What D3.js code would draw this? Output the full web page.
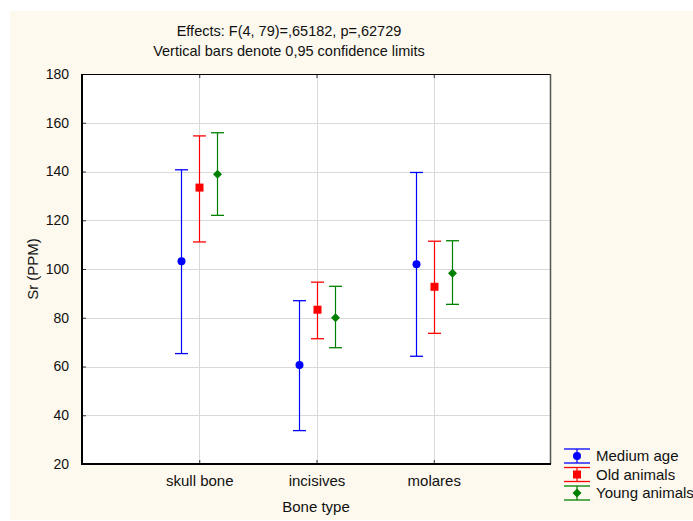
<!DOCTYPE html>
<html>
<head>
<meta charset="utf-8">
<script src="https://cdn.jsdelivr.net/npm/d3@7/dist/d3.min.js"></script>
<style>
  html, body { margin: 0; padding: 0; background: #ffffff; }
  svg { display: block; font-family: "Liberation Sans", Arial, sans-serif; }
</style>
</head>
<body>
<svg id="chart" width="693" height="521"></svg>
<script>
// Bone types on the x axis
const categories = ["skull bone", "incisives", "molares"];
// Age groups (series)
const seriesNames = ["Medium age", "Old animals", "Young animals"];
// Means of Sr (PPM) per bone type, one array per age group
const meanMedium = [103.2, 60.6, 102.0];
const meanOld    = [133.4, 83.3, 92.7];
const meanYoung  = [138.9, 80.0, 98.3];
// Lower and upper 0.95 confidence limits
const lowMedium  = [65.3, 33.7, 64.2];
const highMedium = [140.7, 87.0, 139.6];
const lowOld     = [111.1, 71.4, 73.6];
const highOld    = [154.6, 94.6, 111.4];
const lowYoung   = [122.0, 67.7, 85.5];
const highYoung  = [155.9, 92.9, 111.6];
// Y axis ticks
const yTicks = [20, 40, 60, 80, 100, 120, 140, 160, 180];

const titleLines = ["Effects: F(4, 79)=,65182, p=,62729", "Vertical bars denote 0,95 confidence limits"];

const series = [
  { name: seriesNames[0], mean: meanMedium, low: lowMedium, high: highMedium, color: "#0000ff", shape: "circle" },
  { name: seriesNames[1], mean: meanOld,    low: lowOld,    high: highOld,    color: "#ff0000", shape: "square" },
  { name: seriesNames[2], mean: meanYoung,  low: lowYoung,  high: highYoung,  color: "#008000", shape: "diamond" }
];

const svg = d3.select("#chart");
const plot = { left: 82, top: 74, right: 551, bottom: 464 };
const font = "'Liberation Sans', Arial, sans-serif";

// panel background
svg.append("rect").attr("x", 10).attr("y", 11).attr("width", 683).attr("height", 509).attr("fill", "#fdf9ee");
svg.append("rect").attr("x", plot.left).attr("y", plot.top)
  .attr("width", plot.right - plot.left).attr("height", plot.bottom - plot.top).attr("fill", "#ffffff");

// scales
const x = d3.scalePoint().domain(categories).range([plot.left, plot.right]).padding(1);
const y = d3.scaleLinear().domain([20, 180]).range([plot.bottom, plot.top]);
const offset = d3.scalePoint().domain(seriesNames).range([-18, 18]);

// gridlines
const grid = svg.append("g").attr("stroke", "#d9d9d9").attr("stroke-width", 1);
yTicks.slice(1, -1).forEach(t => {
  grid.append("line").attr("x1", plot.left).attr("x2", plot.right)
    .attr("y1", Math.round(y(t)) + 0.5).attr("y2", Math.round(y(t)) + 0.5);
});
categories.forEach(c => {
  grid.append("line").attr("y1", plot.top).attr("y2", plot.bottom)
    .attr("x1", Math.round(x(c)) + 0.5).attr("x2", Math.round(x(c)) + 0.5);
});

// axes with inward ticks
const yAxis = svg.append("g").attr("transform", `translate(${plot.left},0)`)
  .call(d3.axisLeft(y).tickValues(yTicks).tickSizeInner(-4).tickSizeOuter(0).tickPadding(13));
yAxis.select(".domain").remove();
yAxis.selectAll("text").attr("font-size", 14).attr("fill", "#111").attr("font-family", font);
yAxis.selectAll("line").attr("stroke", "#333");

const xAxis = svg.append("g").attr("transform", `translate(0,${plot.bottom})`)
  .call(d3.axisBottom(x).tickSizeInner(-4).tickSizeOuter(0).tickPadding(11));
xAxis.select(".domain").remove();
xAxis.selectAll("text").attr("font-size", 15).attr("fill", "#111").attr("font-family", font);
xAxis.selectAll("line").attr("stroke", "#333");

const xTop = svg.append("g").attr("transform", `translate(0,${plot.top})`)
  .call(d3.axisTop(x).tickSizeInner(-4).tickSizeOuter(0).tickFormat(""));
xTop.select(".domain").remove();
xTop.selectAll("line").attr("stroke", "#333");

// frame
svg.append("line").attr("x1", plot.left).attr("x2", plot.right).attr("y1", plot.top + 0.5).attr("y2", plot.top + 0.5).attr("stroke", "#000");
svg.append("line").attr("x1", plot.right - 0.5).attr("x2", plot.right - 0.5).attr("y1", plot.top).attr("y2", plot.bottom).attr("stroke", "#555").attr("stroke-width", 1.5);
svg.append("line").attr("x1", plot.left).attr("x2", plot.left).attr("y1", plot.top).attr("y2", plot.bottom + 1).attr("stroke", "#000").attr("stroke-width", 2);
svg.append("line").attr("x1", plot.left - 1).attr("x2", plot.right).attr("y1", plot.bottom).attr("y2", plot.bottom).attr("stroke", "#000").attr("stroke-width", 2);

// marker drawing helper
function drawMarker(g, shape, cx, cy, color) {
  if (shape === "circle") {
    g.append("circle").attr("cx", cx).attr("cy", cy).attr("r", 4).attr("fill", color);
  } else if (shape === "square") {
    g.append("rect").attr("x", cx - 4).attr("y", cy - 4).attr("width", 8).attr("height", 8).attr("fill", color);
  } else {
    g.append("path").attr("d", `M${cx},${cy - 4.5}L${cx + 4.5},${cy}L${cx},${cy + 4.5}L${cx - 4.5},${cy}Z`).attr("fill", color);
  }
}

// error bars and means
const capHalf = 6.5;
series.forEach(s => {
  const g = svg.append("g");
  categories.forEach((c, i) => {
    const cx = Math.round(x(c) + offset(s.name)) + 0.5;
    g.append("line").attr("x1", cx).attr("x2", cx).attr("y1", y(s.low[i])).attr("y2", y(s.high[i]))
      .attr("stroke", s.color).attr("stroke-width", 1.2);
    [s.low[i], s.high[i]].forEach(v => {
      g.append("line").attr("x1", cx - capHalf).attr("x2", cx + capHalf).attr("y1", y(v)).attr("y2", y(v))
        .attr("stroke", s.color).attr("stroke-width", 1.3);
    });
    drawMarker(g, s.shape, cx, y(s.mean[i]), s.color);
  });
});

// titles
titleLines.forEach((t, i) => {
  svg.append("text").attr("x", 289).attr("y", 36 + i * 20).attr("text-anchor", "middle")
    .attr("font-size", 14.5).attr("fill", "#111").text(t);
});

// axis titles
svg.append("text").attr("x", 316).attr("y", 512).attr("text-anchor", "middle")
  .attr("font-size", 15).attr("fill", "#111").text("Bone type");
svg.append("text").attr("transform", "translate(38,269) rotate(-90)").attr("text-anchor", "middle")
  .attr("font-size", 15).attr("fill", "#111").text("Sr (PPM)");

// legend
const legend = svg.append("g");
series.forEach((s, i) => {
  const cy = 456 + i * 18.5;
  const g = legend.append("g");
  [cy - 7, cy + 7].forEach(ly => {
    g.append("line").attr("x1", 564).attr("x2", 590).attr("y1", ly).attr("y2", ly)
      .attr("stroke", s.color).attr("stroke-width", 1.3);
  });
  g.append("line").attr("x1", 577).attr("x2", 577).attr("y1", cy - 7).attr("y2", cy + 7)
    .attr("stroke", s.color).attr("stroke-width", 1.2);
  drawMarker(g, s.shape, 577, cy, s.color);
  g.append("text").attr("x", 596).attr("y", cy + 5).attr("font-size", 15).attr("fill", "#111").text(s.name);
});
</script>
</body>
</html>
